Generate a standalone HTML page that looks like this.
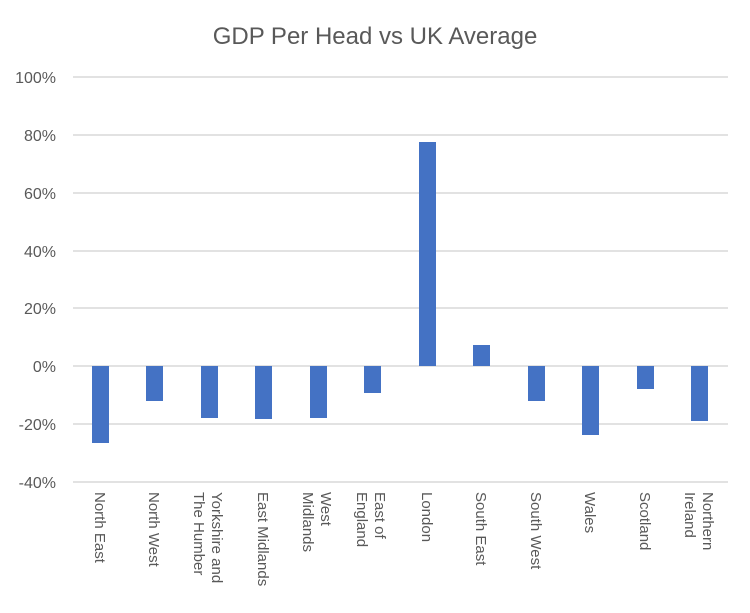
<!DOCTYPE html>
<html><head><style>body{margin:0;background:#fff}svg{display:block;font-family:"Liberation Sans",sans-serif}</style></head>
<body>
<svg width="750" height="613" xmlns="http://www.w3.org/2000/svg">
<rect width="750" height="613" fill="#fff"/>
<text x="375" y="44" font-size="24" fill="#595959" text-anchor="middle">GDP Per Head vs UK Average</text>
<g stroke="#d9d9d9" stroke-width="1.5">
<line x1="73" x2="728" y1="77" y2="77"/><line x1="73" x2="728" y1="135" y2="135"/>
<line x1="73" x2="728" y1="193" y2="193"/><line x1="73" x2="728" y1="251" y2="251"/>
<line x1="73" x2="728" y1="308" y2="308"/><line x1="73" x2="728" y1="366" y2="366"/>
<line x1="73" x2="728" y1="424" y2="424"/><line x1="73" x2="728" y1="482" y2="482"/>
</g>
<g font-size="16" fill="#595959" text-anchor="end">
<text x="56" y="83">100%</text><text x="56" y="141">80%</text><text x="56" y="199">60%</text>
<text x="56" y="257">40%</text><text x="56" y="314">20%</text><text x="56" y="372">0%</text>
<text x="56" y="430">-20%</text><text x="56" y="488">-40%</text>
</g>
<g fill="#4472c4">
<rect x="92" y="366" width="17" height="77"/>
<rect x="146" y="366" width="17" height="35"/>
<rect x="201" y="366" width="17" height="52"/>
<rect x="255" y="366" width="17" height="53"/>
<rect x="310" y="366" width="17" height="52"/>
<rect x="364" y="366" width="17" height="27"/>
<rect x="419" y="142" width="17" height="224"/>
<rect x="473" y="345" width="17" height="21"/>
<rect x="528" y="366" width="17" height="35"/>
<rect x="582" y="366" width="17" height="69"/>
<rect x="637" y="366" width="17" height="23"/>
<rect x="691" y="366" width="17" height="55"/>
</g>
<g font-size="15" fill="#595959">
<text transform="translate(95,492) rotate(90)">North East</text>
<text transform="translate(149,492) rotate(90)">North West</text>
<text transform="translate(212,492) rotate(90)">Yorkshire and</text>
<text transform="translate(194,492) rotate(90)">The Humber</text>
<text transform="translate(258,492) rotate(90)">East Midlands</text>
<text transform="translate(321,492) rotate(90)">West</text>
<text transform="translate(303,492) rotate(90)">Midlands</text>
<text transform="translate(375,492) rotate(90)">East of</text>
<text transform="translate(357,492) rotate(90)">England</text>
<text transform="translate(422,492) rotate(90)">London</text>
<text transform="translate(476,492) rotate(90)">South East</text>
<text transform="translate(531,492) rotate(90)">South West</text>
<text transform="translate(585,492) rotate(90)">Wales</text>
<text transform="translate(640,492) rotate(90)">Scotland</text>
<text transform="translate(703,492) rotate(90)">Northern</text>
<text transform="translate(685,492) rotate(90)">Ireland</text>
</g>
</svg>
</body></html>
